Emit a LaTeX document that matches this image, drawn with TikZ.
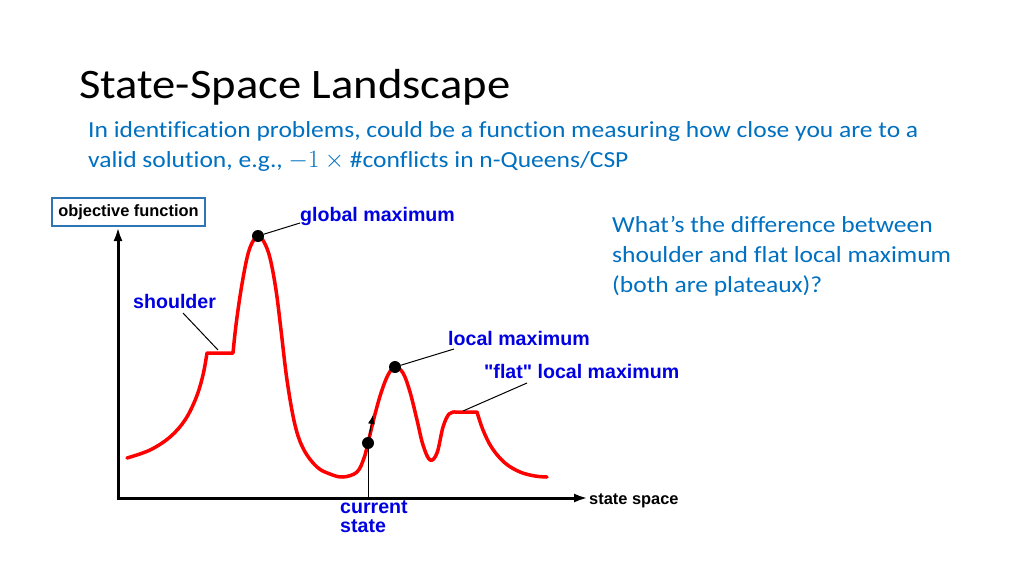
\documentclass[tikz,border=0pt]{standalone}
\usepackage{fontspec}
\usepackage{amsmath}
\setmainfont{Carlito}[FakeStretch=1.11, Ligatures=NoCommon]
\newfontfamily\arialfont{Liberation Sans}
\usetikzlibrary{arrows.meta}
\definecolor{slideblue}{RGB}{0,112,192}
\definecolor{lblblue}{RGB}{0,0,225}
\definecolor{boxblue}{RGB}{46,117,182}
\definecolor{curvered}{RGB}{255,0,0}

\tikzset{
  lbl/.style={font=\arialfont\bfseries\fontsize{19.6}{19}\selectfont, text=lblblue, inner sep=0pt},
  axlbl/.style={font=\arialfont\bfseries\fontsize{16.4}{18}\selectfont, inner sep=0pt},
  bodytext/.style={anchor=base west, inner sep=0pt, align=left, text=slideblue, font=\fontsize{23}{30}\selectfont},
  peakdot/.style={circle, fill=black, inner sep=0pt, minimum size=12pt},
  leader/.style={black, line width=1pt},
  axis/.style={black, line width=3pt, -{Latex[length=14pt,width=9pt]}},
}

\begin{document}
\begin{tikzpicture}[x=1pt,y=-1pt]
\useasboundingbox[fill=white] (0,0) rectangle (1024,576);

% heading (base = last line)
\node[anchor=base west, inner sep=0pt, font=\fontsize{42}{48}\selectfont] (title) at (79,98) {State-Space Landscape};
\node[bodytext] (sub) at (88,167)
  {In identification problems, could be a function measuring how close you are to a\\
   valid solution, e.g., $-1 \times{}$\#conflicts in n-Queens/CSP};
\node[bodytext] (question) at (612,292)
  {What’s the difference between\\ shoulder and flat local maximum\\ (both are plateaux)?};

% axes
\node[draw=boxblue, line width=2pt, fill=white, minimum width=153pt, minimum height=28pt, inner sep=0pt,
  font=\arialfont\bfseries\fontsize{16.4}{18}\selectfont] (objbox) at (128.5,212) {objective function};
\coordinate (origin) at (118,498);
\coordinate (xend) at (588,498);
\draw[axis] (origin) -- (objbox.south -| origin);
\draw[axis] ([xshift=-1.5pt]origin) -- (xend);
\node[axlbl, anchor=base west] (xlbl) at (589,504) {state space};

% landscape
\draw[curvered, line width=3.5pt, line join=round, line cap=round]
  plot[smooth, tension=0.6] coordinates {(127,458) (150,450) (170,437) (185,420) (196,398) (203,375) (207,353)}
  -- (233,353)
  -- plot[smooth, tension=0.6] coordinates {(233,353) (236,325) (241,290) (247,258) (252,243) (258,236) (264,242)
     (270,258) (276,290) (281,330) (287,380) (295,425) (304,450) (317,467) (330,474) (343,477) (357,472)
     (364,458) (368,443) (374,418) (381,393) (388,375) (395,367) (403,373) (410,392) (417,420) (423,445)
     (430,460) (437,453) (443,427) (449,414) (455,412)}
  -- (477,412)
  -- plot[smooth, tension=0.6] coordinates {(477,412) (483,430) (492,448) (505,463) (520,472) (535,476) (547,477)};

% points
\node[peakdot] (gmax) at (258,236) {};
\node[peakdot] (lmax) at (395,367) {};
\node[peakdot] (cur) at (368,443) {};
\coordinate (shoulder) at (218,350);
\coordinate (flat) at (463,411);
\coordinate (curtip) at (373,415);

% labels
\node[lbl, anchor=base west] (gmaxlbl) at (300,221) {global maximum};
\node[lbl, anchor=base west] (shlbl) at (133,308) {shoulder};
\node[lbl, anchor=base west] (lmaxlbl) at (448,345) {local maximum};
\node[lbl, anchor=base west] (flatlbl) at (484,378) {"flat" local maximum};
\node[lbl, anchor=north west, align=left] (curlbl) at (340,501) {current\\state};

% leader ends
\coordinate (gmaxend) at (300,223);
\coordinate (shend) at (183,313);
\coordinate (lmaxend) at (454,349);
\coordinate (flatend) at (527,383);

% leaders
\draw[leader] (gmax) -- (gmaxend);
\draw[leader] (shend) -- (shoulder);
\draw[leader] (lmax) -- (lmaxend);
\draw[leader] (flat) -- (flatend);
\draw[leader] (cur) -- (cur |- origin);
\draw[black, line width=1pt, -{Latex[length=9pt,width=7pt]}] (cur) -- (curtip);
\end{tikzpicture}
\end{document}
